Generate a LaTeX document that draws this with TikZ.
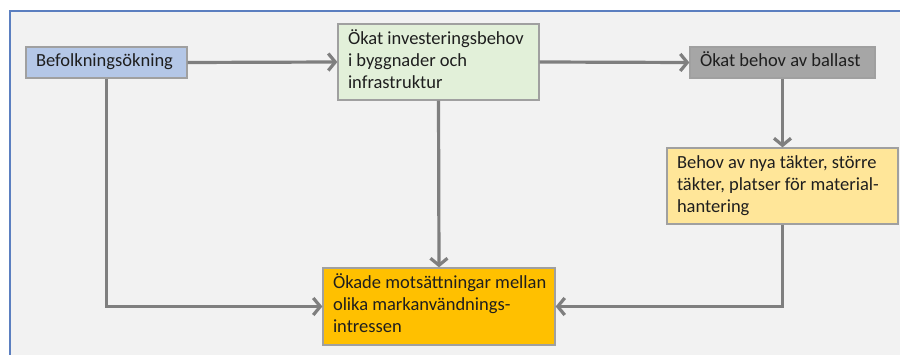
\documentclass[tikz,border=0pt]{standalone}
\usepackage{fontspec}
\setmainfont{Carlito}
\usetikzlibrary{arrows.meta}
\definecolor{bgc}{HTML}{F2F2F2}
\definecolor{framec}{HTML}{5B7FC0}
\definecolor{bluebox}{HTML}{B4C7E7}
\definecolor{greenbox}{HTML}{E2F0D9}
\definecolor{graybox}{HTML}{A6A6A6}
\definecolor{ylbox}{HTML}{FFE699}
\definecolor{orbox}{HTML}{FFC000}
\definecolor{linec}{HTML}{7F7F7F}
\definecolor{edgec}{HTML}{A0A0A0}
\definecolor{txtc}{HTML}{1E1E1E}
\newcommand{\lbox}[2]{\makebox[#1][l]{\begin{tabular}{@{}l@{}}#2\end{tabular}}}
\begin{document}
\begin{tikzpicture}[x=1pt,y=-1pt,
  boxnode/.style={draw=edgec, line width=1.3pt, inner xsep=10pt, inner ysep=0pt,
    text=txtc, font=\fontsize{18.5}{22}\selectfont},
  conn/.style={draw=linec, line width=3.2pt, -{Straight Barb[length=7pt,width=17pt,line width=3.2pt]}}]
\useasboundingbox (0,0) rectangle (900,355);
\fill[white] (0,0) rectangle (900,355);
\fill[bgc] (10,11) rectangle (900,355);
\draw[framec, line width=1.5pt] (10,355) -- (10,11) -- (900,11);

\node[boxnode, fill=bluebox, minimum height=31pt] (bef) at (106.5,62.5) {\lbox{141pt}{Befolkningsökning}};
\node[boxnode, fill=greenbox, minimum height=76pt] (inv) at (438.5,62) {\lbox{181pt}{Ökat investeringsbehov\\i byggnader och\\infrastruktur}};
\node[boxnode, fill=graybox, minimum height=31pt] (bal) at (782.5,62.5) {\lbox{165pt}{Ökat behov av ballast}};
\node[boxnode, fill=ylbox, minimum height=76pt] (tak) at (782.5,186) {\lbox{211pt}{Behov av nya täkter, större\\täkter, platser för material-\\hantering}};
\node[boxnode, fill=orbox, minimum height=77pt] (mot) at (439,306.5) {\lbox{212pt}{Ökade motsättningar mellan\\olika markanvändnings-\\intressen}};

\draw[conn] (bef.east) -- (inv.west);
\draw[conn] (inv.east) -- (bal.west);
\draw[conn] (bal.south) -- (tak.north);
\draw[conn] (inv.south) -- (mot.north);
\draw[conn] (bef.south) |- (mot.west);
\draw[conn] (tak.south) |- (mot.east);
\end{tikzpicture}
\end{document}
